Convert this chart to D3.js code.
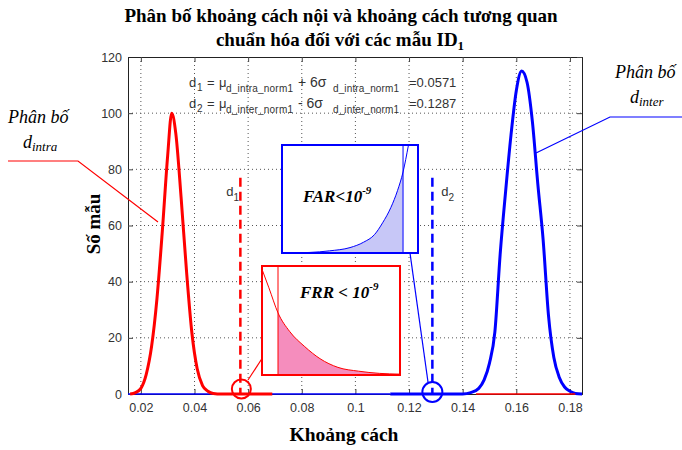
<!DOCTYPE html>
<html>
<head>
<meta charset="utf-8">
<script src="https://cdn.jsdelivr.net/npm/d3@7"></script>
<style>
  body { margin: 0; background: #fff; }
  svg { display: block; }
</style>
</head>
<body>
<svg id="chart" width="682" height="450"></svg>
<script>
// values
const xTicks = [0.02, 0.04, 0.06, 0.08, 0.1, 0.12, 0.14, 0.16, 0.18];
const yTicks = [0, 20, 40, 60, 80, 100, 120];

// d_intra distribution (red)
const intraX = [0.016, 0.018, 0.020, 0.022, 0.024, 0.026, 0.028, 0.030, 0.0315, 0.033, 0.035, 0.037, 0.039, 0.041, 0.043, 0.045, 0.047, 0.050, 0.069];
const intraY = [0, 0.5, 2, 7, 17, 34, 58, 85, 100, 93, 70, 44, 22, 9, 3, 1, 0.2, 0, 0];
const intraTailX = [0.145, 0.182];

// d_inter distribution (blue)
const interX = [0.113, 0.140, 0.143, 0.146, 0.148, 0.150, 0.152, 0.154, 0.156, 0.158, 0.160, 0.162, 0.164, 0.166, 0.168, 0.170, 0.172, 0.174, 0.176, 0.178, 0.180, 0.182, 0.1845];
const interY = [0, 0, 0.5, 2, 5, 11, 22, 50, 72, 92, 108, 115, 111, 97, 75, 55, 28, 13, 6, 2.5, 1, 0.2, 0];
const interZeroX = [0.0152, 0.113];

// thresholds
const d1 = 0.0571, d2 = 0.1287;

// zoomed tails (fraction of box width, fraction of box height)
const frrT = [0, 0.05, 0.116, 0.2, 0.31, 0.42, 0.55, 0.7, 0.85, 1];
const frrV = [0.97, 0.8, 0.57, 0.4, 0.26, 0.15, 0.07, 0.035, 0.015, 0.008];
const frrCut = 0.116;
const farT = [0, 0.2, 0.35, 0.5, 0.6, 0.68, 0.74, 0.8, 0.85, 0.89, 0.93];
const farV = [0, 0.005, 0.02, 0.05, 0.1, 0.17, 0.28, 0.42, 0.58, 0.75, 1.0];
const farCut = 0.89;

const svg = d3.select('#chart');
const serif = "'Liberation Serif', 'Times New Roman', serif";
const sans = "'Liberation Sans', Arial, sans-serif";

const m = {left: 128, right: 582, top: 57, bottom: 394};
const x = d3.scaleLinear().domain([0.0152, 0.1845]).range([m.left, m.right]);
const y = d3.scaleLinear().domain([0, 120]).range([m.bottom, m.top]);

// title
const title = svg.append('text')
    .attr('text-anchor', 'middle')
    .style('font', `bold 19px ${serif}`);
title.append('tspan').attr('x', 341).attr('y', 22)
    .text('Phân bố khoảng cách nội và khoảng cách tương quan');
title.append('tspan').attr('x', 340).attr('y', 46)
    .text('chuẩn hóa đối với các mẫu ID');
title.append('tspan').attr('dy', 4).style('font-size', '13px').text('1');

// grid
const grid = svg.append('g')
    .attr('stroke', '#555')
    .attr('stroke-width', 1)
    .attr('stroke-dasharray', '1,3');
grid.selectAll('.gx').data(xTicks).join('line')
    .attr('x1', d => x(d)).attr('x2', d => x(d))
    .attr('y1', m.top).attr('y2', m.bottom);
grid.selectAll('.gy').data(yTicks.slice(1, -1)).join('line')
    .attr('y1', d => y(d)).attr('y2', d => y(d))
    .attr('x1', m.left).attr('x2', m.right);

// axes
const xAxis = d3.axisBottom(x).tickValues(xTicks).tickSize(-5).tickPadding(9)
    .tickFormat(d3.format('~g'));
const yAxis = d3.axisLeft(y).tickValues(yTicks).tickSize(-5).tickPadding(6);
const gx = svg.append('g').attr('transform', `translate(0,${m.bottom})`).call(xAxis);
const gy = svg.append('g').attr('transform', `translate(${m.left},0)`).call(yAxis);
svg.append('g').attr('transform', `translate(0,${m.top})`)
    .call(d3.axisTop(x).tickValues(xTicks).tickSize(-5).tickFormat(''));
svg.append('g').attr('transform', `translate(${m.right},0)`)
    .call(d3.axisRight(y).tickValues(yTicks).tickSize(-5).tickFormat(''));
svg.selectAll('.domain').attr('stroke', '#222');
svg.selectAll('.tick line').attr('stroke', '#444');
[gx, gy].forEach(g => g.selectAll('text')
    .style('font', `12.5px ${sans}`).attr('fill', '#333'));

// axis titles
svg.append('text')
    .attr('transform', 'translate(100,224) rotate(-90)')
    .attr('text-anchor', 'middle')
    .style('font', `bold 19px ${serif}`)
    .text('Số mẫu');
svg.append('text')
    .attr('x', 344).attr('y', 441)
    .attr('text-anchor', 'middle')
    .style('font', `bold 19.5px ${serif}`)
    .text('Khoảng cách');

// curves
const line = d3.line().x(d => x(d[0])).y(d => y(d[1])).curve(d3.curveMonotoneX);
const curves = svg.append('g').attr('fill', 'none');
curves.append('path')
    .datum(interZeroX.map(v => [v, 0]))
    .attr('d', line).attr('stroke', '#0000ff').attr('stroke-width', 1.5);
curves.append('path')
    .datum(intraX.map((v, i) => [v, intraY[i]]))
    .attr('d', line).attr('stroke', '#ff0000').attr('stroke-width', 3);
curves.append('path')
    .datum(interX.map((v, i) => [v, interY[i]]))
    .attr('d', line).attr('stroke', '#0000ff').attr('stroke-width', 3);
curves.append('path')
    .datum(intraTailX.map(v => [v, 0]))
    .attr('d', line).attr('stroke', '#ff0000').attr('stroke-width', 1.5);

// threshold lines
const thr = [
    {v: d1, c: '#ff0000', sub: '1', lx: -14},
    {v: d2, c: '#0000ff', sub: '2', lx: 9}
];
thr.forEach(t => {
    svg.append('line')
        .attr('x1', x(t.v)).attr('x2', x(t.v))
        .attr('y1', y(77)).attr('y2', m.bottom)
        .attr('stroke', t.c).attr('stroke-width', 2.5)
        .attr('stroke-dasharray', '9,5');
    const lab = svg.append('text')
        .attr('x', x(t.v) + t.lx).attr('y', 196)
        .style('font', `13px ${sans}`).attr('fill', '#333');
    lab.append('tspan').text('d');
    lab.append('tspan').attr('dy', 5).style('font-size', '10px').text(t.sub);
});

// formulas
const fml = [
    {yy: 87, d: '1', a: 'd_intra_norm1', op: '+ 6σ', val: '=0.0571'},
    {yy: 108, d: '2', a: 'd_inter_norm1', op: '- 6σ', val: '=0.1287'}
];
fml.forEach(f => {
    const g = svg.append('g').style('font', `13px ${sans}`).attr('fill', '#333');
    g.append('text').attr('x', 189).attr('y', f.yy).text('d');
    g.append('text').attr('x', 197).attr('y', f.yy + 4).style('font-size', '10px').text(f.d);
    g.append('text').attr('x', 207).attr('y', f.yy).text('=');
    g.append('text').attr('x', 219).attr('y', f.yy).text('μ');
    g.append('text').attr('x', 226).attr('y', f.yy + 5).style('font-size', '10px')
        .attr('textLength', 67).text(f.a);
    g.append('text').attr('x', 298).attr('y', f.yy).style('font-size', '14px').text(f.op);
    g.append('text').attr('x', 333).attr('y', f.yy + 5).style('font-size', '10px')
        .attr('textLength', 66).text(f.a);
    g.append('text').attr('x', 409).attr('y', f.yy).text(f.val);
});

// selection circles and connectors
svg.append('circle').attr('cx', x(d1) + 1).attr('cy', 389).attr('r', 9.5)
    .attr('fill', 'none').attr('stroke', '#ff0000').attr('stroke-width', 2);
svg.append('circle').attr('cx', x(d2)).attr('cy', 392).attr('r', 10)
    .attr('fill', 'none').attr('stroke', '#0000ff').attr('stroke-width', 2);
svg.append('line').attr('x1', 248).attr('y1', 380).attr('x2', 263).attr('y2', 357)
    .attr('stroke', '#ff0000').attr('stroke-width', 1.2);
svg.append('line').attr('x1', 428).attr('y1', 382).attr('x2', 410).attr('y2', 253)
    .attr('stroke', '#0000ff').attr('stroke-width', 1.2);

// inset boxes
function inset(box, ts, vs, cut, fillLeft, stroke, fill, label) {
    const sx = d3.scaleLinear().domain([0, 1]).range([box.x, box.x + box.w]);
    const sy = d3.scaleLinear().domain([0, 1]).range([box.y + box.h, box.y]);
    const id = 'clip' + label.replace(/\W/g, '');
    svg.append('clipPath').attr('id', id).append('rect')
        .attr('x', box.x).attr('y', box.y).attr('width', box.w).attr('height', box.h);
    const g = svg.append('g');
    g.append('rect').attr('x', box.x).attr('y', box.y).attr('width', box.w).attr('height', box.h)
        .attr('fill', '#fff');
    const pts = ts.map((t, i) => [t, vs[i]]);
    const inner = g.append('g').attr('clip-path', `url(#${id})`);
    const area = d3.area().x(d => sx(d[0])).y0(sy(0)).y1(d => sy(d[1])).curve(d3.curveMonotoneX);
    inner.append('path')
        .datum(pts)
        .attr('d', area)
        .attr('fill', fill);
    // mask the unfilled side with white
    inner.append('rect')
        .attr('x', fillLeft ? sx(cut) : box.x)
        .attr('width', fillLeft ? box.x + box.w - sx(cut) : sx(cut) - box.x)
        .attr('y', box.y).attr('height', box.h).attr('fill', '#fff');
    inner.append('path').datum(pts)
        .attr('d', d3.line().x(d => sx(d[0])).y(d => sy(d[1])).curve(d3.curveMonotoneX))
        .attr('fill', 'none').attr('stroke', stroke).attr('stroke-width', 1);
    inner.append('line').attr('x1', sx(cut)).attr('x2', sx(cut))
        .attr('y1', box.y).attr('y2', box.y + box.h)
        .attr('stroke', stroke).attr('stroke-width', 1);
    g.append('rect').attr('x', box.x).attr('y', box.y).attr('width', box.w).attr('height', box.h)
        .attr('fill', 'none').attr('stroke', stroke).attr('stroke-width', 2);
    const tx = g.append('text').attr('x', box.tx).attr('y', box.ty)
        .style('font', `italic bold 17px ${serif}`).attr('fill', '#000');
    tx.append('tspan').text(label);
    tx.append('tspan').attr('dy', -8).style('font-size', '11px').text('-9');
}

inset({x: 262, y: 266, w: 138, h: 109, tx: 300, ty: 298},
    frrT, frrV, frrCut, false, '#ff0000', '#f58dbd', 'FRR < 10');
inset({x: 282, y: 145, w: 136, h: 108, tx: 303, ty: 202},
    farT, farV, farCut, true, '#0000ff', '#c7c7f7', 'FAR<10');

// side annotations
function note(px, py, sub, color, pts) {
    const g = svg.append('g').style('font', `italic 18px ${serif}`).attr('fill', '#000');
    g.append('text').attr('x', px).attr('y', py).text('Phân bố');
    const t = g.append('text').attr('x', px + 15).attr('y', py + 25);
    t.append('tspan').text('d');
    t.append('tspan').attr('dy', 3).style('font-size', '13px').text(sub);
    svg.append('polyline').attr('points', pts.map(p => p.join(',')).join(' '))
        .attr('fill', 'none').attr('stroke', color).attr('stroke-width', 1.2);
}
note(8, 123, 'intra', '#ff0000', [[8, 161], [78, 161], [158, 222]]);
note(615, 78, 'inter', '#0000ff', [[536, 153], [610, 117], [682, 117]]);
</script>
</body>
</html>
